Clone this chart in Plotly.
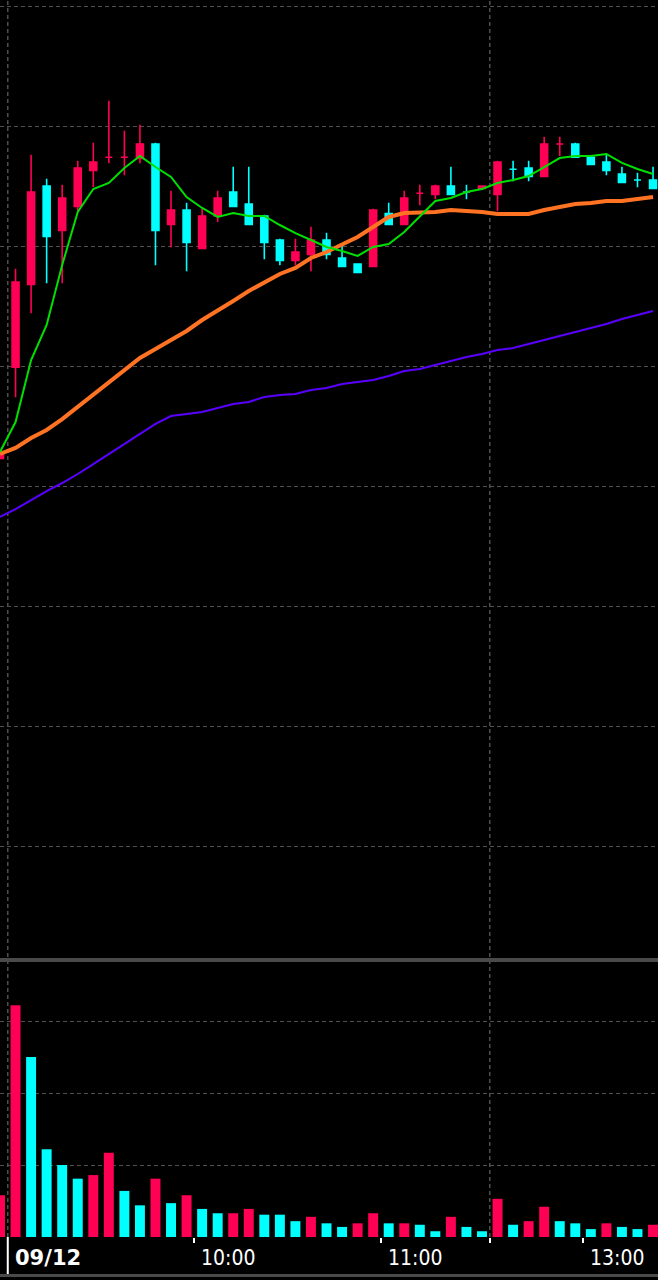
import plotly.graph_objects as go

# ---------------- data ----------------
# bar index 0 = last bar of previous session, 1.. = 5-minute bars of 09/12
bar_idx = list(range(43))
opens  = [3623, 3699, 3768, 3850, 3813, 3833, 3863, 3874, 3874, 3873,
          3885, 3818, 3830, 3798, 3825, 3845, 3835, 3825, 3805, 3788,
          3793, 3805, 3790, 3785, 3783, 3827, 3818, 3844, 3843, 3850,
          3845, 3848, 3843, 3864, 3865, 3858, 3885, 3885, 3874, 3870,
          3860, 3855, 3855]
highs  = [3628, 3781, 3876, 3856, 3851, 3871, 3886, 3921, 3896, 3901,
          3886, 3846, 3836, 3831, 3846, 3866, 3866, 3826, 3806, 3806,
          3816, 3811, 3800, 3785, 3831, 3836, 3846, 3851, 3851, 3866,
          3851, 3850, 3871, 3871, 3871, 3891, 3891, 3886, 3875, 3877,
          3866, 3861, 3866]
lows   = [3623, 3674, 3744, 3769, 3769, 3829, 3849, 3869, 3859, 3869,
          3784, 3799, 3779, 3798, 3820, 3833, 3818, 3789, 3784, 3784,
          3779, 3789, 3783, 3778, 3783, 3818, 3818, 3834, 3839, 3843,
          3839, 3848, 3829, 3854, 3854, 3858, 3875, 3874, 3868, 3859,
          3853, 3849, 3848]
closes = [3627, 3770, 3845, 3808, 3840, 3865, 3870, 3874, 3874, 3885,
          3813, 3830, 3803, 3825, 3840, 3833, 3818, 3803, 3788, 3795,
          3805, 3793, 3783, 3778, 3830, 3818, 3840, 3844, 3850, 3843,
          3845, 3850, 3870, 3864, 3858, 3885, 3885, 3874, 3868, 3863,
          3853, 3855, 3848]
candle_side = ["up", "up", "up", "down", "up", "up", "up", "up", "up", "up",
               "down", "up", "down", "up", "up", "down", "down", "down", "down", "up",
               "up", "down", "down", "down", "up", "down", "up", "up", "up", "down",
               "down", "up", "up", "down", "down", "up", "up", "down", "down", "down",
               "down", "down", "down"]

ma_short = [3628.3, 3653.3, 3705.0, 3734.2, 3784.2, 3828.3, 3847.5, 3852.5, 3865.0, 3875.0,
            3865.8, 3857.5, 3840.8, 3831.7, 3824.2, 3827.5, 3825.0, 3825.0, 3817.5, 3810.8,
            3805.0, 3799.2, 3795.8, 3791.7, 3799.2, 3801.7, 3811.7, 3824.2, 3837.5, 3840.0,
            3845.0, 3847.5, 3852.5, 3855.0, 3858.3, 3865.8, 3873.3, 3875.0, 3875.0, 3876.7,
            3869.2, 3864.2, 3860.0]
ma_mid = [3626.7, 3631.7, 3640.0, 3646.7, 3655.8, 3665.8, 3676.7, 3685.8, 3695.8, 3706.7,
          3714.2, 3721.7, 3729.2, 3738.3, 3746.7, 3754.2, 3762.5, 3769.2, 3776.7, 3781.7,
          3790.0, 3795.0, 3800.8, 3807.5, 3815.8, 3824.2, 3827.5, 3827.5, 3828.3, 3830.0,
          3829.2, 3828.3, 3826.7, 3826.7, 3826.7, 3830.0, 3832.5, 3835.0, 3835.8, 3837.5,
          3837.5, 3839.2, 3840.8]
ma_long = [3574.2, 3580.8, 3588.3, 3595.8, 3602.5, 3610.0, 3618.3, 3626.7, 3635.0, 3643.3,
           3651.7, 3658.3, 3660.0, 3661.7, 3665.0, 3668.3, 3670.0, 3674.2, 3675.8, 3676.7,
           3680.0, 3681.7, 3685.0, 3686.7, 3688.3, 3691.7, 3695.8, 3697.5, 3700.8, 3704.2,
           3707.5, 3710.0, 3713.3, 3715.0, 3718.3, 3721.7, 3725.0, 3728.3, 3731.7, 3735.0,
           3739.2, 3742.5, 3745.8]

volumes = [58000, 322000, 250000, 122000, 100000, 81000, 86000, 117000, 64000, 44000,
           81000, 47000, 58000, 39000, 33000, 33000, 39000, 31000, 31000, 22000,
           28000, 19000, 14000, 19000, 33000, 19000, 19000, 17000, 8000, 28000,
           14000, 8000, 53000, 17000, 22000, 42000, 22000, 19000, 11000, 19000,
           14000, 11000, 17000]
volume_side = ["up", "up", "down", "down", "down", "down", "up", "up", "down", "down",
               "up", "down", "up", "down", "down", "up", "up", "down", "down", "down",
               "up", "down", "down", "up", "up", "down", "up", "down", "down", "up",
               "down", "down", "up", "down", "up", "up", "down", "down", "down", "up",
               "down", "down", "up"]

tick_pos = [0.5, 12.5, 24.5, 31.5, 37.5]
tick_text = ["09/12", "10:00", "11:00", "", "13:00"]
session_lines = [0.5, 31.5]

# ---------------- styles ----------------
UP = "#ff0055"
DOWN = "#00ffff"
GRID = "#505050"
H_PLOT = 1237  # plot-area height in px (figure 1280, bottom margin 43)

def py(pix):
    return (H_PLOT - pix) / H_PLOT

fig = go.Figure()

for side, col in (("up", UP), ("down", DOWN)):
    sel = [i for i in bar_idx if candle_side[i] == side]
    fig.add_trace(go.Candlestick(
        x=[bar_idx[i] for i in sel],
        open=[opens[i] for i in sel], high=[highs[i] for i in sel],
        low=[lows[i] for i in sel], close=[closes[i] for i in sel],
        increasing=dict(line=dict(color=col, width=1.6), fillcolor=col),
        decreasing=dict(line=dict(color=col, width=1.6), fillcolor=col),
        whiskerwidth=0, hoverinfo="skip", xaxis="x", yaxis="y"))

fig.add_trace(go.Scatter(x=bar_idx, y=ma_long, mode="lines",
                         line=dict(color="#5a00ff", width=2), hoverinfo="skip"))
fig.add_trace(go.Scatter(x=bar_idx, y=ma_mid, mode="lines",
                         line=dict(color="#ff7322", width=4), hoverinfo="skip"))
fig.add_trace(go.Scatter(x=bar_idx, y=ma_short, mode="lines",
                         line=dict(color="#00e000", width=2), hoverinfo="skip"))

fig.add_trace(go.Bar(x=bar_idx, y=volumes, width=0.64,
                     marker=dict(color=[UP if s == "up" else DOWN for s in volume_side],
                                 line=dict(width=0)),
                     xaxis="x2", yaxis="y2", hoverinfo="skip"))

XR = [0, 42.32]
fig.update_layout(
    width=658, height=1280,
    margin=dict(l=0, r=0, t=0, b=1280 - H_PLOT),
    paper_bgcolor="black", plot_bgcolor="black",
    showlegend=False, boxgap=0.36,
    xaxis=dict(domain=[0, 1], range=XR, anchor="y", showgrid=False, zeroline=False,
               showticklabels=False, ticks="", rangeslider=dict(visible=False)),
    yaxis=dict(domain=[py(958), 1], range=[4005 - 958 / 1.2, 4005], tick0=0, dtick=100,
               showgrid=True, gridcolor=GRID, griddash="4px,3px", gridwidth=1.2,
               zeroline=False, showticklabels=False),
    xaxis2=dict(domain=[0, 1], range=XR, anchor="y2", matches="x", showgrid=False,
                zeroline=False, tickvals=tick_pos[1:], ticktext=[""] * 4,
                ticks="outside", ticklen=5, tickwidth=2, tickcolor="white",
                showline=False),
    yaxis2=dict(domain=[0, py(962)], range=[0, (H_PLOT - 962) / 0.72 * 1000],
                tick0=0, dtick=100000, showgrid=True, gridcolor=GRID,
                griddash="4px,3px", gridwidth=1.2, zeroline=False, showticklabels=False),
)

shapes = []
for sx in session_lines:
    shapes.append(dict(type="line", xref="x", yref="paper", x0=sx, x1=sx, y0=0, y1=1,
                       line=dict(color=GRID, width=1.5, dash="4px,3px"), layer="below"))
shapes.append(dict(type="line", xref="paper", yref="paper", x0=0, x1=1,
                   y0=py(960), y1=py(960), line=dict(color="#4a4a4a", width=4)))
shapes.append(dict(type="line", xref="x", yref="paper", x0=tick_pos[0], x1=tick_pos[0],
                   y0=0, y1=py(1274), line=dict(color="white", width=2)))
shapes.append(dict(type="rect", xref="paper", yref="paper", x0=0, x1=1,
                   y0=py(1277), y1=py(1274), line=dict(width=0), fillcolor="#4a4a4a"))
fig.update_layout(shapes=shapes)

for tp, tt in zip(tick_pos, tick_text):
    if not tt:
        continue
    bold = tt == tick_text[0]
    fig.add_annotation(x=tp, xref="x", y=py(1258), yref="paper", xanchor="left",
                       yanchor="middle", xshift=5, showarrow=False,
                       text=("<b>%s</b>" % tt) if bold else tt,
                       font=dict(color="white", size=21,
                                 family="DejaVu Sans" if bold else "DejaVu Sans Condensed"))

fig.write_html("out.html", config={"displayModeBar": False},
               post_script="document.body.style.margin='0';document.body.style.background='black';")
